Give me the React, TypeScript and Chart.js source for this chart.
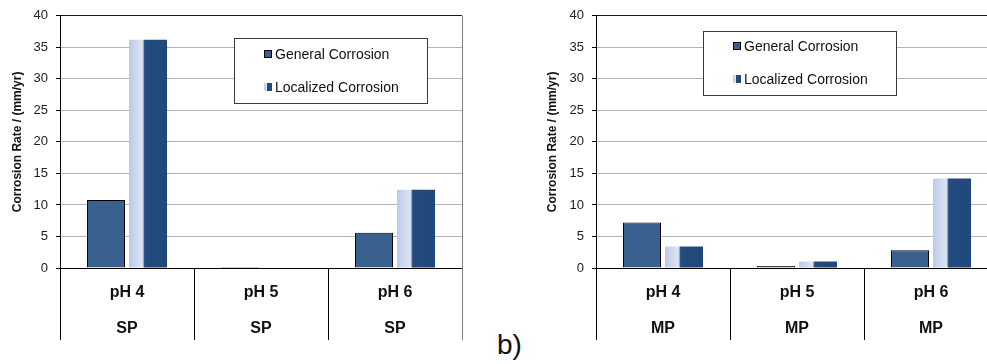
import React, { useEffect, useRef } from "react";
import { Chart, registerables } from "chart.js";

Chart.register(...registerables);

const FONT = '"Liberation Sans", Arial, sans-serif';

const leftCategories = [["pH 4", "SP"], ["pH 5", "SP"], ["pH 6", "SP"]];
const rightCategories = [["pH 4", "MP"], ["pH 5", "MP"], ["pH 6", "MP"]];
const seriesNames = ["General Corrosion", "Localized Corrosion"];
const leftGeneral = [10.8, 0.15, 5.6];
const leftLocalized = [36.2, 0, 12.4];
const rightGeneral = [7.2, 0.3, 2.8];
const rightLocalized = [3.4, 1.05, 14.2];
const yTitle = "Corrosion Rate / (mm/yr)";
const yMin = 0;
const yMax = 40;
const yStep = 5;

const GENERAL_COLOR = "#38618f";

function localizedGradient(ctx: CanvasRenderingContext2D, left: number, width: number) {
  const g = ctx.createLinearGradient(left, 0, left + width, 0);
  g.addColorStop(0, "#bccae8");
  g.addColorStop(0.35, "#dde5f3");
  g.addColorStop(0.375, "#a9b5cc");
  g.addColorStop(0.395, "#8594b0");
  g.addColorStop(0.41, "#244b7e");
  g.addColorStop(1, "#1f487b");
  return g;
}

const decoPlugin = {
  id: "deco",
  beforeDatasetsDraw(chart: any) {
    const ctx = chart.ctx;
    const meta = chart.getDatasetMeta(1);
    meta.data.forEach((el: any) => {
      const { x, width } = el.getProps(["x", "width"], true);
      const left = x - width / 2;
      el.options = Object.assign({}, el.options, {
        backgroundColor: localizedGradient(ctx, left, width),
      });
    });
  },
  afterDraw(chart: any, _args: any, opts: any) {
    const ctx = chart.ctx;
    const area = chart.chartArea;
    ctx.save();
    // right border of plot / category block
    ctx.strokeStyle = "#7f7f7f";
    ctx.lineWidth = 1;
    ctx.beginPath();
    ctx.moveTo(Math.round(area.right) + 0.5, area.top);
    ctx.lineTo(Math.round(area.right) + 0.5, area.bottom + 72);
    ctx.stroke();

    // legend box
    const b = opts.box;
    ctx.fillStyle = "#ffffff";
    ctx.fillRect(b.x, b.y, b.w, b.h);
    ctx.strokeStyle = "#3a3a3a";
    ctx.strokeRect(b.x + 0.5, b.y + 0.5, b.w, b.h);
    ctx.font = "14px " + FONT;
    ctx.textBaseline = "middle";
    ctx.textAlign = "left";
    const sx = b.x + 30;
    chart.data.datasets.forEach((ds: any, i: number) => {
      const cy = opts.itemsY[i];
      if (i === 0) {
        ctx.fillStyle = GENERAL_COLOR;
        ctx.fillRect(sx, cy - 4, 8, 8);
        ctx.strokeStyle = "#000";
        ctx.strokeRect(sx + 0.5, cy - 3.5, 7, 7);
      } else {
        ctx.fillStyle = localizedGradient(ctx, sx, 8);
        ctx.fillRect(sx, cy - 4, 8, 8);
      }
      ctx.fillStyle = "#111";
      ctx.fillText(ds.label, sx + 11, cy + 1);
    });
    ctx.restore();
  },
};

function makeConfig(
  categories: string[][],
  general: number[],
  localized: number[],
  legendOpts: any,
  titlePad: number
): any {
  return {
    type: "bar",
    data: {
      labels: categories,
      datasets: [
        {
          label: seriesNames[0],
          data: general,
          backgroundColor: GENERAL_COLOR,
          borderColor: "#000",
          borderWidth: 1,
          categoryPercentage: 0.627,
          barPercentage: 0.905,
        },
        {
          label: seriesNames[1],
          data: localized,
          backgroundColor: "#1f487b",
          borderWidth: 0,
          categoryPercentage: 0.627,
          barPercentage: 0.905,
        },
      ],
    },
    options: {
      animation: false,
      responsive: false,
      maintainAspectRatio: false,
      events: [],
      layout: { padding: { top: 13, right: 18, left: 0, bottom: 0 } },
      plugins: {
        legend: { display: false },
        tooltip: { enabled: false },
        deco: legendOpts,
      },
      scales: {
        x: {
          offset: true,
          grid: {
            offset: true,
            drawOnChartArea: false,
            drawTicks: true,
            tickLength: 72,
            color: "#000",
            lineWidth: 1,
          },
          border: { display: true, color: "#000", width: 1 },
          ticks: {
            autoSkip: false,
            maxRotation: 0,
            minRotation: 0,
            padding: -65,
            color: "#111",
            font: { family: FONT, size: 16, weight: "bold", lineHeight: 2.25 },
          },
          afterFit(scale: any) {
            scale.height = 96;
          },
        },
        y: {
          min: yMin,
          max: yMax,
          ticks: {
            stepSize: yStep,
            padding: 8,
            color: "#222",
            font: { family: FONT, size: 13 },
          },
          grid: {
            color: (c: any) =>
              c.tick && (c.tick.value === yMax || c.tick.value === yMin) ? "#1a1a1a" : "#b3b3b3",
            lineWidth: 1,
            tickLength: 4,
            tickColor: "#000",
          },
          border: { display: true, color: "#000", width: 1 },
          title: {
            display: true,
            text: yTitle,
            color: "#111",
            padding: { top: titlePad, bottom: 0 },
            font: { family: FONT, size: 12, weight: "bold" },
          },
          afterFit(scale: any) {
            scale.width = 60;
          },
        },
      },
    },
    plugins: [decoPlugin],
  };
}

function Panel(props: { config: any; left: number }) {
  const ref = useRef<HTMLCanvasElement | null>(null);
  useEffect(() => {
    if (!ref.current) return;
    const chart = new Chart(ref.current, props.config);
    return () => chart.destroy();
  }, []);
  return (
    <canvas
      ref={ref}
      width={480}
      height={364}
      style={{ position: "absolute", left: props.left, top: 0, width: 480, height: 364 }}
    />
  );
}

export default function App() {
  const leftCfg = makeConfig(
    leftCategories,
    leftGeneral,
    leftLocalized,
    { box: { x: 234, y: 38, w: 193, h: 65 }, itemsY: [54, 87] },
    10
  );
  const rightCfg = makeConfig(
    rightCategories,
    rightGeneral,
    rightLocalized,
    { box: { x: 167, y: 31, w: 193, h: 64 }, itemsY: [46, 79] },
    9
  );
  return (
    <div
      style={{
        position: "absolute",
        left: 0,
        top: 0,
        width: 987,
        height: 364,
        overflow: "hidden",
        background: "#fff",
      }}
    >
      <Panel config={leftCfg} left={0} />
      <Panel config={rightCfg} left={536} />
      <div
        style={{
          position: "absolute",
          left: 497,
          top: 331,
          fontFamily: FONT,
          fontSize: 28,
          lineHeight: "28px",
          color: "#111",
        }}
      >
        b)
      </div>
    </div>
  );
}
